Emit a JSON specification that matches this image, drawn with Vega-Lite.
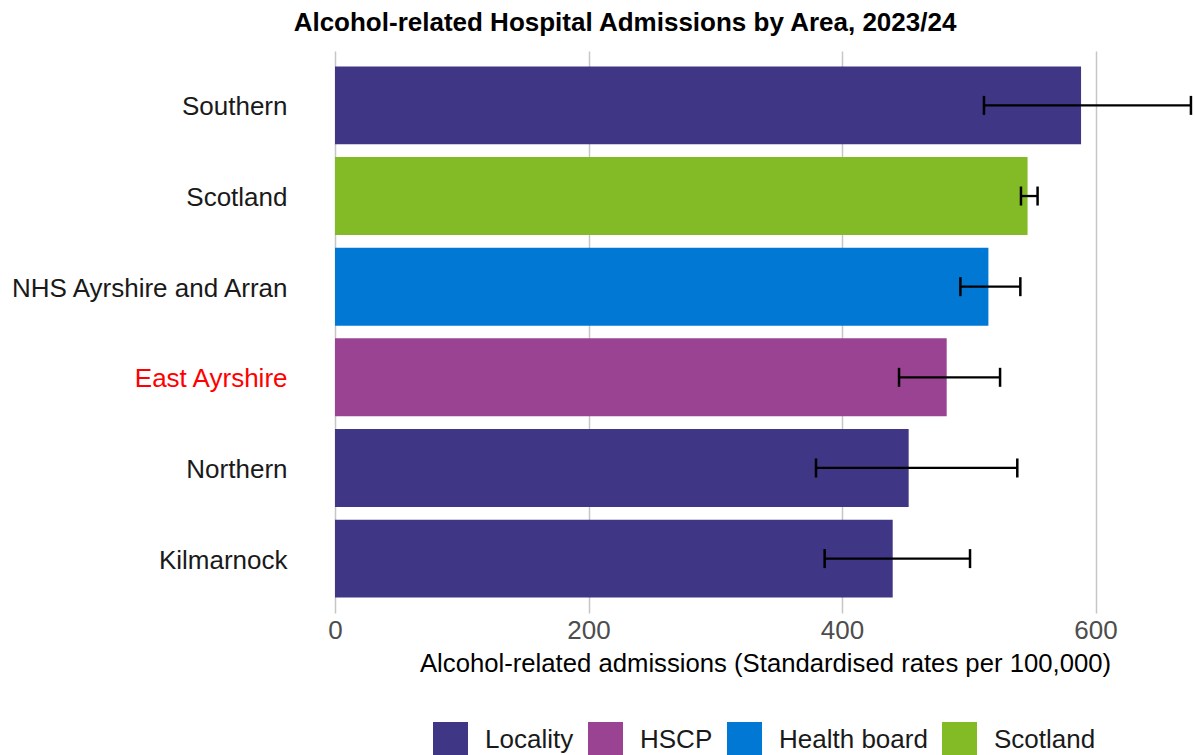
{
  "$schema": "https://vega.github.io/schema/vega-lite/v6.json",
  "width": 860,
  "height": 562,
  "autosize": {"type": "none"},
  "padding": {"left": 335, "top": 51, "right": 0, "bottom": 142},
  "background": "white",
  "title": {
    "text": "Alcohol-related Hospital Admissions by Area, 2023/24",
    "fontSize": 26,
    "fontWeight": "bold",
    "font": "Liberation Sans",
    "color": "#000000",
    "anchor": "middle",
    "frame": "group",
    "dx": -140,
    "offset": 15
  },
  "data": {
    "values": [
      {"area": "Southern", "type": "Locality", "rate": 588.6, "lower": 512.0, "upper": 675.3},
      {"area": "Scotland", "type": "Scotland", "rate": 546.4, "lower": 541.2, "upper": 554.3},
      {"area": "NHS Ayrshire and Arran", "type": "Health board", "rate": 515.5, "lower": 493.4, "upper": 540.7},
      {"area": "East Ayrshire", "type": "HSCP", "rate": 482.6, "lower": 445.0, "upper": 524.7},
      {"area": "Northern", "type": "Locality", "rate": 452.6, "lower": 379.5, "upper": 538.3},
      {"area": "Kilmarnock", "type": "Locality", "rate": 440.0, "lower": 386.3, "upper": 501.0}
    ]
  },
  "encoding": {
    "y": {
      "field": "area",
      "type": "nominal",
      "sort": ["Southern", "Scotland", "NHS Ayrshire and Arran", "East Ayrshire", "Northern", "Kilmarnock"],
      "scale": {"paddingInner": 0.14, "paddingOuter": 0.17},
      "axis": {
        "title": null,
        "domain": false,
        "ticks": false,
        "tickSize": 0,
        "grid": false,
        "labelPadding": 48,
        "labelOffset": 2,
        "labelLimit": 0,
        "labelFontSize": 26,
        "labelFont": "Liberation Sans",
        "labelColor": {"condition": {"test": "datum.value === 'East Ayrshire'", "value": "#FF0000"}, "value": "#1a1a1a"}
      }
    }
  },
  "layer": [
    {
      "mark": {"type": "bar"},
      "encoding": {
        "x": {
          "field": "rate",
          "type": "quantitative",
          "scale": {"domain": [0, 678.5], "nice": false, "zero": true},
          "axis": {"title": "Alcohol-related admissions (Standardised rates per 100,000)", "values": [0, 200, 400, 600]}
        },
        "color": {
          "field": "type",
          "type": "nominal",
          "scale": {
            "domain": ["Locality", "HSCP", "Health board", "Scotland"],
            "range": ["#3F3685", "#9B4393", "#0078D4", "#83BB26"]
          },
          "legend": {
            "orient": "none",
            "legendX": 98,
            "legendY": 671,
            "direction": "horizontal",
            "title": null,
            "symbolType": "square",
            "symbolSize": 1225,
            "symbolStrokeWidth": 0,
            "symbolOpacity": 1,
            "labelFontSize": 26,
            "labelFont": "Liberation Sans",
            "labelColor": "#1a1a1a",
            "labelOffset": 17,
            "columnPadding": 14
          }
        }
      }
    },
    {
      "mark": {"type": "rule", "color": "#000000", "strokeWidth": 2.3},
      "encoding": {
        "x": {"field": "lower", "type": "quantitative", "axis": {"title": "Alcohol-related admissions (Standardised rates per 100,000)"}},
        "x2": {"field": "upper"}
      }
    },
    {
      "mark": {"type": "tick", "color": "#000000", "thickness": 2.5, "size": 19, "opacity": 1},
      "encoding": {
        "x": {"field": "lower", "type": "quantitative", "axis": {"title": "Alcohol-related admissions (Standardised rates per 100,000)"}}
      }
    },
    {
      "mark": {"type": "tick", "color": "#000000", "thickness": 2.5, "size": 19, "opacity": 1},
      "encoding": {
        "x": {"field": "upper", "type": "quantitative", "axis": {"title": "Alcohol-related admissions (Standardised rates per 100,000)"}}
      }
    }
  ],
  "config": {
    "view": {"stroke": null},
    "font": "Liberation Sans",
    "axisX": {
      "domain": false,
      "ticks": false,
      "tickSize": 0,
      "grid": true,
      "gridColor": "#c6c6c6",
      "gridWidth": 1.5,
      "labelFlush": false,
      "labelFontSize": 26,
      "labelFont": "Liberation Sans",
      "labelColor": "#4d4d4d",
      "labelPadding": 4,
      "titleFontSize": 25.7,
      "titleFont": "Liberation Sans",
      "titleFontWeight": "normal",
      "titleColor": "#000000",
      "titlePadding": 8
    }
  }
}
